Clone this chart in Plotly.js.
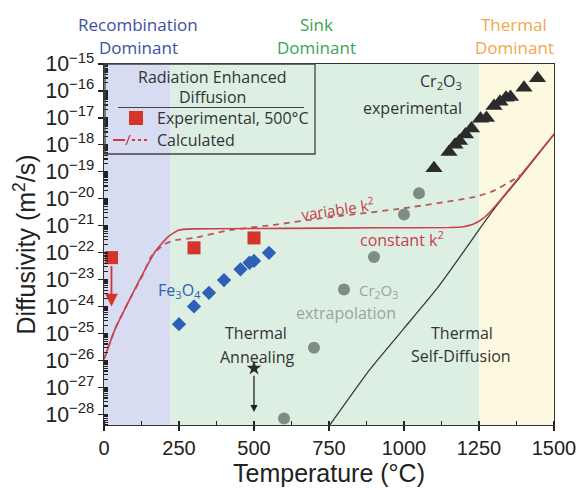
<!DOCTYPE html>
<html>
<head>
<meta charset="utf-8">
<script src="https://cdn.plot.ly/plotly-3.0.1.min.js"></script>
<style>
html,body{margin:0;padding:0;background:#fff;}
#chart{width:578px;height:490px;}
</style>
</head>
<body>
<div id="chart"></div>
<script>
// ---------------- data ----------------
const regionEdges = [0, 220, 1250, 1500];
const regionTop = ['Recombination', 'Sink', 'Thermal'];
const regionBottom = ['Dominant', 'Dominant', 'Dominant'];

const tempTicks = [0, 250, 500, 750, 1000, 1250, 1500];

// Radiation enhanced diffusion, experimental (red squares)
const expT = [25, 300, 500];
const expD = [6.5e-23, 1.5e-22, 3.5e-22];
// upper-bound arrow for the 25 C point
const expArrowT = 25;
const expArrowTo = 1.0e-24;

// Fe3O4 (blue diamonds)
const feT = [250, 300, 350, 400, 455, 485, 500, 550];
const feD = [2.2e-25, 1.0e-24, 3.2e-24, 9.5e-24, 2.4e-23, 4.2e-23, 4.9e-23, 9.8e-23];

// Cr2O3 extrapolation (grey circles)
const crExtT = [600, 700, 800, 900, 1000, 1050];
const crExtD = [6.9e-29, 2.95e-26, 4.3e-24, 6.9e-23, 2.6e-21, 1.6e-20];

// Cr2O3 experimental (black triangles)
const crExpT = [1100, 1150, 1170, 1185, 1205, 1225, 1255, 1275, 1300, 1320, 1340, 1355, 1400, 1445];
const crExpD = [1.35e-19, 5.4e-19, 1.0e-18, 1.4e-18, 2.4e-18, 4.0e-18, 9.3e-18, 1.0e-17, 2.75e-17, 4.0e-17, 5.6e-17, 5.9e-17, 1.3e-16, 2.95e-16];

// Thermal annealing (star + arrow)
const annealT = [500];
const annealD = [5.1e-27];
const annealArrowTo = 1.2e-28;

// Thermal self-diffusion line
const selfT = [753, 887, 998, 1109, 1187, 1253, 1320, 1387, 1500];
const selfD = [4.0e-29, 4.7e-27, 1.45e-25, 4.5e-24, 7.1e-23, 7.9e-22, 7.9e-21, 6.3e-20, 2.4e-18];

// Calculated, constant k^2 (solid red)
const constT = [0, 37, 81, 126, 170, 214, 248, 300, 600, 900, 1150, 1198, 1230, 1264, 1290, 1320, 1387, 1500];
const constD = [1.1e-26, 1.45e-25, 1.45e-24, 1.4e-23, 1.07e-22, 3.9e-22, 6.8e-22, 7.6e-22, 7.9e-22, 8.3e-22, 8.5e-22, 9.1e-22, 1.12e-21, 1.86e-21, 3.5e-21, 8.5e-21, 7.0e-20, 2.5e-18];

// Calculated, variable k^2 (dashed red)
const varT = [0, 37, 81, 126, 160, 200, 237, 300, 420, 575, 720, 998, 1242, 1300, 1364, 1387];
const varD = [1.1e-26, 1.45e-25, 1.45e-24, 1.26e-23, 7.9e-23, 2.0e-22, 2.9e-22, 3.5e-22, 6.8e-22, 1.1e-21, 1.86e-21, 4.4e-21, 1.2e-20, 2.0e-20, 5.0e-20, 7.5e-20];

// ---------------- styling helpers ----------------
const L = 104, R = 554, T = 64, B = 425;
function px(x) { return (x - L) / (R - L); }
function py(y) { return (B - y) / (B - T); }

const red = '#c8404a';
const redDash = '#b55a55';
const sqRed = '#d2352a';
const blue = '#2f60b8';
const grey = '#7e8c84';
const dark = '#2b2b2b';
const txtFont = 'Open Sans, Noto Sans, sans-serif';
const axFont = 'Liberation Sans, Arial, sans-serif';

const traces = [
  {x: varT, y: varD, mode: 'lines', line: {color: redDash, width: 1.8, dash: '6px,5px', shape: 'spline', smoothing: 0.5}, hoverinfo: 'skip'},
  {x: selfT, y: selfD, mode: 'lines', line: {color: '#3a3a3a', width: 1.3, shape: 'spline', smoothing: 0.4}, hoverinfo: 'skip'},
  {x: constT, y: constD, mode: 'lines', line: {color: red, width: 1.6, shape: 'spline', smoothing: 0.5}, hoverinfo: 'skip'},
  {x: expT, y: expD, mode: 'markers', marker: {symbol: 'square', size: 13, color: sqRed}, cliponaxis: false},
  {x: feT, y: feD, mode: 'markers', marker: {symbol: 'diamond', size: 11, color: blue}},
  {x: crExtT, y: crExtD, mode: 'markers', marker: {symbol: 'circle', size: 12, color: grey}},
  {x: crExpT, y: crExpD, mode: 'markers', marker: {symbol: 'triangle-up', size: 15, color: dark}},
  {x: annealT, y: annealD, mode: 'markers', marker: {symbol: 'star', size: 11, color: dark}}
];

const shapes = [];
const bandColors = ['#d7dcf2', '#ddefe3', '#fdf9e0'];
for (let i = 0; i < regionTop.length; i++) {
  shapes.push({type: 'rect', layer: 'below', xref: 'x', yref: 'paper', x0: regionEdges[i], x1: regionEdges[i + 1], y0: 0, y1: 1, fillcolor: bandColors[i], line: {width: 0}});
}
// legend box
shapes.push({type: 'rect', xref: 'paper', yref: 'paper', x0: px(105), x1: px(315), y0: py(64), y1: py(154), line: {color: '#444', width: 1.3}});
shapes.push({type: 'line', xref: 'paper', yref: 'paper', x0: px(118), x1: px(304), y0: py(107.5), y1: py(107.5), line: {color: '#444', width: 1}});
shapes.push({type: 'rect', xref: 'paper', yref: 'paper', x0: px(129), x1: px(143), y0: py(111), y1: py(125), fillcolor: sqRed, line: {width: 0}});
shapes.push({type: 'line', xref: 'paper', yref: 'paper', x0: px(113), x1: px(125), y0: py(140), y1: py(140), line: {color: red, width: 2}});
shapes.push({type: 'line', xref: 'paper', yref: 'paper', x0: px(126), x1: px(130), y0: py(145), y1: py(135), line: {color: red, width: 1.3}});
shapes.push({type: 'line', xref: 'paper', yref: 'paper', x0: px(132), x1: px(150), y0: py(140), y1: py(140), line: {color: red, width: 2, dash: 'dot'}});

function txt(text, x, y, opts) {
  return Object.assign({text: text, xref: 'paper', yref: 'paper', x: px(x), y: py(y), showarrow: false,
    xanchor: 'center', yanchor: 'middle', font: {family: txtFont, size: 16, color: '#333'}}, opts || {});
}

const regionCenters = [138, 316, 514];
const regionColors = ['#3d4fa0', '#3aa457', '#f3a54d'];
const annotations = [];
for (let i = 0; i < regionTop.length; i++) {
  annotations.push(txt(regionTop[i], regionCenters[i], 25, {font: {family: txtFont, size: 17, color: regionColors[i]}}));
  annotations.push(txt(regionBottom[i], regionCenters[i], 48, {font: {family: txtFont, size: 17, color: regionColors[i]}}));
}
annotations.push(
  txt('Radiation Enhanced', 212, 77),
  txt('Diffusion', 212, 97),
  txt('Experimental, 500°C', 155, 118, {xanchor: 'left'}),
  txt('Calculated', 155, 140, {xanchor: 'left'}),
  txt('Cr<sub>2</sub>O<sub>3</sub>', 464, 82, {xanchor: 'right'}),
  txt('experimental', 464, 108, {xanchor: 'right'}),
  txt('variable k<sup>2</sup>', 337, 208, {textangle: -8, font: {family: txtFont, size: 15, color: red}}),
  txt('constant k<sup>2</sup>', 402, 239, {font: {family: txtFont, size: 16, color: red}}),
  txt('Fe<sub>3</sub>O<sub>4</sub>', 179, 290, {font: {family: txtFont, size: 16, color: blue}}),
  txt('Cr<sub>2</sub>O<sub>3</sub>', 378, 291, {font: {family: txtFont, size: 15, color: '#9aa39e'}}),
  txt('extrapolation', 346, 313, {font: {family: txtFont, size: 16, color: '#9aa39e'}}),
  txt('Thermal', 256, 333),
  txt('Annealing', 257, 357),
  txt('Thermal', 462, 333),
  txt('Self-Diffusion', 461, 356)
);
// arrows (data coords, log axis uses log10 values)
annotations.push({
  xref: 'x', yref: 'y', axref: 'x', ayref: 'y',
  x: expArrowT, y: Math.log10(expArrowTo), ax: expArrowT, ay: Math.log10(expD[0]),
  showarrow: true, arrowhead: 2, arrowsize: 1.4, arrowwidth: 1.8, arrowcolor: sqRed, startstandoff: 7, text: ''
});
annotations.push({
  xref: 'x', yref: 'y', axref: 'x', ayref: 'y',
  x: annealT[0], y: Math.log10(annealArrowTo), ax: annealT[0], ay: Math.log10(annealD[0]),
  showarrow: true, arrowhead: 2, arrowsize: 1.1, arrowwidth: 1.3, arrowcolor: '#222', startstandoff: 6, text: ''
});

const layout = {
  width: 578, height: 490,
  margin: {l: L, r: 578 - R, t: T, b: 490 - B},
  paper_bgcolor: '#fff', plot_bgcolor: 'rgba(0,0,0,0)',
  showlegend: false,
  xaxis: {
    range: [0, 1500], tickvals: tempTicks, ticktext: tempTicks.map(String),
    ticks: 'outside', ticklen: 5, tickwidth: 1.3, tickcolor: '#222',
    minor: {ticks: 'inside', ticklen: 4, dtick: 125, tickcolor: '#222'},
    showgrid: false, zeroline: false, showline: true, linecolor: '#333', linewidth: 1.3, mirror: true,
    tickfont: {family: axFont, size: 20, color: '#222'},
    title: {text: 'Temperature (°C)', font: {family: axFont, size: 25, color: '#222'}, standoff: 4}
  },
  yaxis: {
    type: 'log', range: [-28.4, -15], dtick: 1, exponentformat: 'power', showexponent: 'all',
    ticks: 'outside', ticklen: 5, tickwidth: 1.3, tickcolor: '#222',
    minor: {ticks: 'inside', ticklen: 4, tickcolor: '#222'},
    showgrid: false, zeroline: false, showline: true, linecolor: '#333', linewidth: 1.3, mirror: true,
    tickfont: {family: axFont, size: 17, color: '#222'},
    title: {text: 'Diffusivity (m<sup>2</sup>/s)', font: {family: axFont, size: 25, color: '#222'}, standoff: 2}
  },
  shapes: shapes,
  annotations: annotations
};

Plotly.newPlot('chart', traces, layout, {staticPlot: true, displayModeBar: false});
</script>
</body>
</html>
